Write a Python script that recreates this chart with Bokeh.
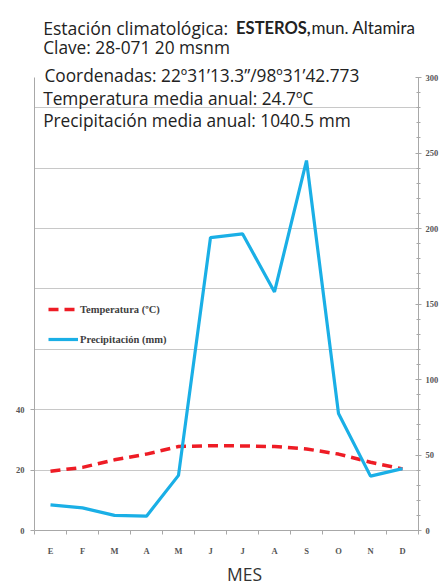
from bokeh.plotting import figure
from bokeh.models import (LinearAxis, Range1d, FixedTicker, SingleIntervalTicker,
                          Label, Legend, LegendItem, Title)
from bokeh.embed import file_html
from bokeh.resources import INLINE

# ---- data ----
months = ["E", "F", "M", "A", "M", "J", "J", "A", "S", "O", "N", "D"]
temperatura = [19.6, 20.9, 23.4, 25.3, 27.8, 28.1, 28.0, 27.8, 27.0, 25.3, 22.6, 20.4]
precipitacion = [17, 15, 10, 9.5, 36.5, 194, 196.5, 158, 245, 77.5, 36, 41]
temp_ticks = [0, 20, 40]
grid_ticks = [20, 40, 60, 80, 100, 120, 140]
temp_max = 150
prec_max = 300

title_lines = [
    "Clave: 28-071  20 msnm",
    "Coordenadas:  22º31\u201913.3\u201d/98º31\u201942.773",
    "Temperatura media anual: 24.7ºC",
    "Precipitación media anual:  1040.5 mm",
]

xs = [i + 0.5 for i in range(len(months))]

p = figure(width=441, height=587, output_backend="svg", toolbar_location=None,
           x_range=Range1d(0, 12), y_range=Range1d(0, 175.5),
           min_border_left=34, min_border_right=22, min_border_top=0,
           min_border_bottom=57)
p.title.visible = False
p.outline_line_color = None
p.background_fill_color = "white"
p.border_fill_color = "white"
p.extra_y_ranges = {"prec": Range1d(0, 351)}

axis_col = "#A8A8A8"
lab_col = "#555555"

# x axis
xa = p.xaxis[0]
xa.ticker = FixedTicker(ticks=xs, minor_ticks=list(range(13)))
xa.major_label_overrides = {x: m for x, m in zip(xs, months)}
xa.major_tick_line_color = None
xa.major_tick_out = 0
xa.major_tick_in = 0
xa.minor_tick_out = 4
xa.minor_tick_in = 0
xa.minor_tick_line_color = axis_col
xa.axis_line_color = axis_col
xa.major_label_standoff = 11
xa.major_label_text_font = "Liberation Serif"
xa.major_label_text_font_style = "bold"
xa.major_label_text_font_size = "8.5px"
xa.major_label_text_color = lab_col

# x axis title ("MES"), placed as a below-title so it can sit right of centre
mes = Title(text="MES", align="left", offset=192.5, standoff=2,
            text_font="Open Sans", text_font_style="normal",
            text_font_size="17.5px", text_color="#333333")
p.add_layout(mes, "below")

# left axis
ya = p.yaxis[0]
ya.ticker = FixedTicker(ticks=temp_ticks)
ya.bounds = (0, temp_max)
ya.axis_line_color = axis_col
ya.major_tick_line_color = axis_col
ya.major_tick_out = 4
ya.major_tick_in = 0
ya.minor_tick_line_color = None
ya.major_label_standoff = 6
ya.major_label_text_font = "Liberation Serif"
ya.major_label_text_font_style = "bold"
ya.major_label_text_font_size = "8.5px"
ya.major_label_text_color = lab_col

# right axis
ra = LinearAxis(y_range_name="prec", ticker=SingleIntervalTicker(interval=50, num_minor_ticks=5))
ra.bounds = (0, prec_max)
ra.axis_line_color = axis_col
ra.major_tick_line_color = axis_col
ra.major_tick_out = 3
ra.major_tick_in = 3
ra.minor_tick_line_color = axis_col
ra.minor_tick_out = 2
ra.minor_tick_in = 2
ra.major_label_standoff = 4
ra.major_label_text_font = "Liberation Serif"
ra.major_label_text_font_style = "bold"
ra.major_label_text_font_size = "8.5px"
ra.major_label_text_color = lab_col
p.add_layout(ra, "right")

p.xgrid.visible = False
p.ygrid.ticker = FixedTicker(ticks=grid_ticks)
p.ygrid.grid_line_color = "#C8C8C8"
p.ygrid.grid_line_width = 1.2

# lines
rt = p.line(xs, temperatura, line_color="#EE1C25", line_width=3.5, line_dash="10 6")
rp = p.line(xs, precipitacion, y_range_name="prec", line_color="#1AAFE6", line_width=3.2)

legend = Legend(items=[LegendItem(label="Temperatura (ºC)", renderers=[rt]),
                       LegendItem(label="Precipitación (mm)", renderers=[rp])],
                location=(14, 185), padding=10, spacing=18, margin=0,
                glyph_width=30, glyph_height=12, label_height=12,
                label_standoff=2, border_line_color=None,
                background_fill_alpha=0.0,
                label_text_font="Liberation Serif", label_text_font_style="bold",
                label_text_font_size="10.5px", label_text_color="#404040")
p.add_layout(legend, "center")

# title texts
FONT = "Open Sans"
TS = "17.3px"
tcol = "#222222"

def lab(x, y, t, bold=False, font=FONT, size=TS):
    p.add_layout(Label(x=x, y=y, text=t, text_font=font, text_font_size=size,
                       text_color=tcol, text_baseline="alphabetic",
                       text_font_style="bold" if bold else "normal"))

lab(0.27, 166.5, "Estación climatológica:", size="17.6px")
lab(6.30, 166.5, "ESTEROS,", bold=True, font="Lato", size="16.5px")
lab(8.66, 166.5, "mun. Altamira", font="Lato", size="17px")
lab(0.27, 159.8, title_lines[0])
lab(0.31, 150.5, title_lines[1])
lab(0.27, 143.2, title_lines[2])
lab(0.27, 135.8, title_lines[3])

open("out.html", "w").write(file_html(p, INLINE))
